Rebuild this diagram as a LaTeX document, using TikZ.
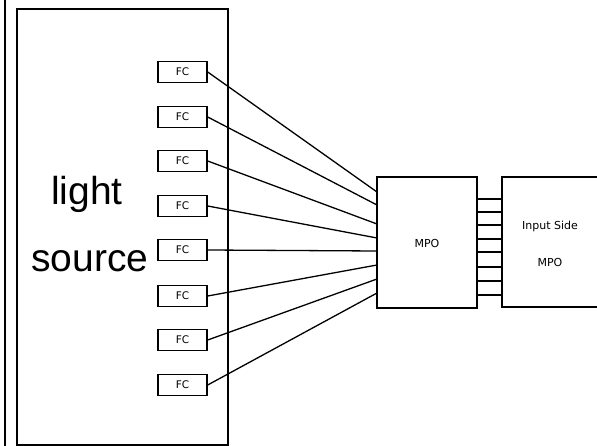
\documentclass[tikz,border=0pt]{standalone}
\usepackage{fontspec}
\setmainfont{Liberation Sans}
\newfontfamily\smallfont{DejaVu Sans}
\usetikzlibrary{calc}
\begin{document}
\begin{tikzpicture}[x=1pt,y=-1pt,
  box/.style={draw,line width=1.8pt,rectangle,inner sep=0pt},
  fcbox/.style={draw,line width=1.4pt,rectangle,minimum width=49pt,minimum height=21pt,inner sep=0pt,font=\smallfont\fontsize{10.5}{12}\selectfont},
  fiber/.style={line width=1.3pt},
  big/.style={font=\fontsize{39}{40}\selectfont,inner sep=0pt,anchor=base},
  lbl/.style={font=\smallfont\fontsize{11}{12}\selectfont,inner sep=0pt}]
\useasboundingbox (0,0) rectangle (597,446);
\fill[white] (0,0) rectangle (597,446);
% outer edge line
\coordinate (et) at (5,0);
\coordinate (eb) at (5,446);
\draw[line width=1.8pt] (et) -- (eb);
% light source box
\node[box,minimum width=211pt,minimum height=436pt] (ls) at (122.5,227) {};
\node[big] (t1) at (87,205) {light};
\node[big] (t2) at (90,272) {source};
% MPO boxes
\node[box,minimum width=100pt,minimum height=131pt] (mpo) at (427,242.5) {};
\node[lbl] (mpol) at (427,243) {MPO};
\node[box,minimum width=110pt,minimum height=130pt] (inp) at (557,242) {};
\node[lbl] (inl1) at (550,226) {Input Side};
\node[lbl] (inl2) at (550,262) {MPO};
% FC connectors and fibers
\foreach \i/\y/\m in {1/72/192,2/117/205,3/161/224,4/206/238,5/250/251,6/296/265,7/340/279,8/385/293}{
  \node[fcbox] (fc\i) at (182.5,\y) {FC};
  \coordinate (m\i) at (377,\m);
  \draw[fiber] (fc\i.east) -- (m\i);
}
% MPO-to-MPO lines
\foreach \j/\y in {1/199,2/212,3/225,4/239,5/252,6/267,7/281,8/295}{
  \coordinate (p\j) at (440,\y);
  \draw[fiber] (mpo.east |- p\j) -- (inp.west |- p\j);
}
\end{tikzpicture}
\end{document}
